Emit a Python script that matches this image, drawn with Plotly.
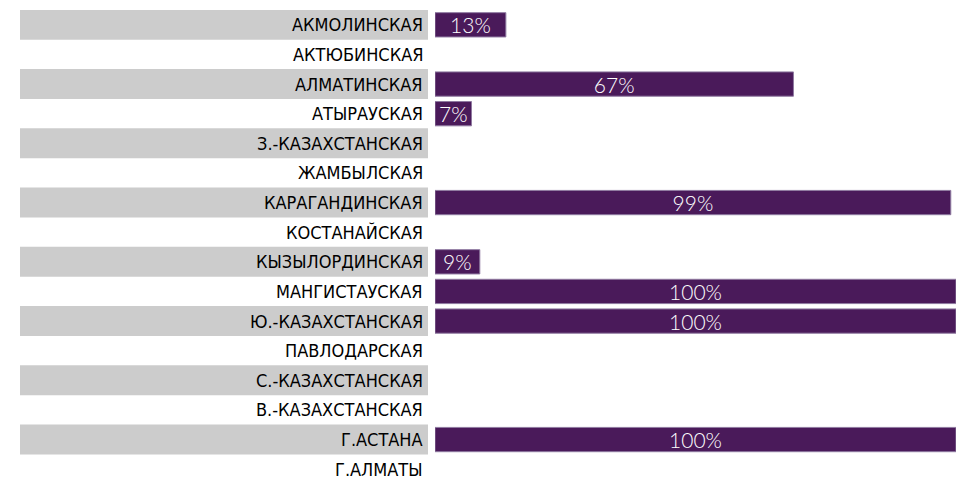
import plotly.graph_objects as go

regions = ["АКМОЛИНСКАЯ", "АКТЮБИНСКАЯ", "АЛМАТИНСКАЯ", "АТЫРАУСКАЯ", "З.-КАЗАХСТАНСКАЯ",
           "ЖАМБЫЛСКАЯ", "КАРАГАНДИНСКАЯ", "КОСТАНАЙСКАЯ", "КЫЗЫЛОРДИНСКАЯ", "МАНГИСТАУСКАЯ",
           "Ю.-КАЗАХСТАНСКАЯ", "ПАВЛОДАРСКАЯ", "С.-КАЗАХСТАНСКАЯ", "В.-КАЗАХСТАНСКАЯ",
           "Г.АСТАНА", "Г.АЛМАТЫ"]
# bar lengths as drawn (percent of full width)
shares = [13.6, None, 68.8, 7, None, None, 99, None, 8.6, 100, 100, None, None, None, 100, None]
# value labels as printed on the bars
labels = ["13%", "", "67%", "7%", "", "", "99%", "", "9%", "100%", "100%", "", "", "", "100%", ""]

W, H = 956, 484
L, T = 435, 10
plot_w = W - L

fig = go.Figure(go.Bar(
    x=shares, y=list(range(len(regions))), orientation="h",
    text=labels, textposition="inside", insidetextanchor="middle", textangle=0,
    marker=dict(color="#4a1a5a", line=dict(color="#8f7aa0", width=1)),
    textfont=dict(family="Lato", size=21, color="#ffffff", weight=300),
    width=0.82, hoverinfo="skip",
))

shapes = []
annotations = []
for i, name in enumerate(regions):
    if i % 2 == 0:
        shapes.append(dict(type="rect", xref="paper", yref="y",
                           x0=(20 - L) / plot_w, x1=(428 - L) / plot_w,
                           y0=i - 0.505, y1=i + 0.505,
                           fillcolor="#cccccc", line=dict(width=0), layer="below"))
    annotations.append(dict(xref="paper", yref="y", x=(425 - L) / plot_w, y=i,
                            text=name, showarrow=False, xanchor="right", yanchor="middle",
                            font=dict(family="DejaVu Sans Condensed, Liberation Sans, Arial, sans-serif",
                                      size=18, color="#000000")))

fig.update_layout(
    width=W, height=H,
    margin=dict(l=L, r=0, t=T, b=0),
    paper_bgcolor="white", plot_bgcolor="white",
    showlegend=False,
    xaxis=dict(range=[0, 100], visible=False, fixedrange=True),
    yaxis=dict(range=[len(regions) - 0.5, -0.5], visible=False, fixedrange=True),
    shapes=shapes, annotations=annotations,
    uniformtext=dict(minsize=21, mode="show"),
)

fig.write_html("out.html", config={"displayModeBar": False},
               post_script="document.body.style.margin='0';document.body.style.overflow='hidden';")
